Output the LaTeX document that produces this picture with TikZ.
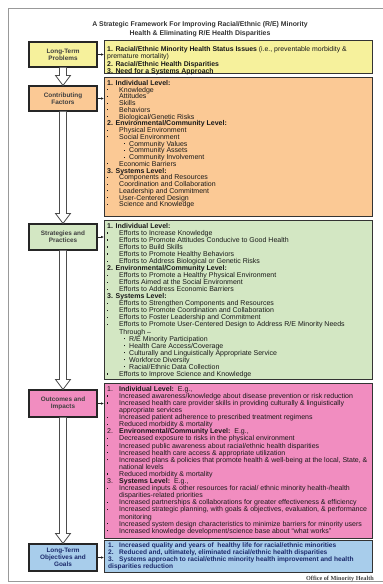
\documentclass[tikz,border=0pt]{standalone}
\usepackage{fontspec}
\setmainfont{Liberation Sans}
\newfontfamily\credfont{Liberation Serif}
\usetikzlibrary{arrows.meta,calc}
\definecolor{probfill}{HTML}{F6F19C}
\definecolor{factfill}{HTML}{FBC995}
\definecolor{stratfill}{HTML}{D3E7C3}
\definecolor{outfill}{HTML}{F18DC0}
\definecolor{goalfill}{HTML}{A8CDEB}
\definecolor{goaltext}{HTML}{1B2A6B}
\newcommand{\dotmark}{\raisebox{1.8pt}{\rule{1.2pt}{1.2pt}}}
\newcommand{\bl}{\makebox[12pt][l]{\dotmark}}
\newcommand{\sbl}{\hspace*{17pt}\makebox[5pt][l]{\dotmark}}
\newcommand{\cont}{\hspace*{12pt}}
\newcommand{\lvl}[1]{\makebox[12pt][l]{#1}}
\newcommand{\blockarrow}[2]{%
  \draw[barrow] let \p1=(#1.south), \p2=(#2.north) in
    (\x1-3.5pt,\y1) -- (\x1-3.5pt,\y2+10pt) -- (\x1-7.5pt,\y2+10pt) -- (\x1,\y2)
    -- (\x1+7.5pt,\y2+10pt) -- (\x1+3.5pt,\y2+10pt) -- (\x1+3.5pt,\y1);}
\begin{document}
\begin{tikzpicture}[x=1pt,y=-1pt,
	every node/.style={inner sep=0pt},
	stage/.style={draw=black!85,line width=1.1pt,minimum width=68pt,align=center,
		font=\fontsize{6.4}{7}\selectfont\bfseries,text=black!75},
	panel/.style={draw=black!80,line width=1.3pt,minimum width=268pt,anchor=north west},
	items/.style={anchor=north west,align=left,font=\fontsize{7}{7}\selectfont,text=black!90},
	conn/.style={-{Latex[length=3pt,width=2.6pt]},line width=0.8pt,black!85},
	barrow/.style={draw=black!70,fill=white,line width=0.8pt}]
\useasboundingbox (0,0) rectangle (383,584);
\draw[black!40,line width=0.8pt] (384,8) -- (8,8) -- (8,581) -- (384,581);
\node[align=center,font=\fontsize{6.9}{8.8}\selectfont\bfseries,text=black!80] (title) at (200,29.5)
	{A Strategic Framework For Improving Racial/Ethnic (R/E) Minority\\
	 Health \& Eliminating R/E Health Disparities};

\node[stage,fill=probfill,minimum height=25pt] (prob) at (63,54.5) {Long-Term\\Problems};
\node[stage,fill=factfill,minimum height=25pt] (fact) at (63,98.5) {Contributing\\Factors};
\node[stage,fill=stratfill,minimum height=26pt] (strat) at (63,237) {Strategies and\\Practices};
\node[stage,fill=outfill,minimum height=27pt] (out) at (63,403.5) {Outcomes and\\Impacts};
\node[stage,fill=goalfill,minimum height=27pt,text=goaltext] (goal) at (63,557.5) {Long-Term\\Objectives and\\Goals};

\node[panel,fill=probfill,minimum height=33pt] (probbox) at (104,40) {};
\node[panel,fill=factfill,minimum height=139pt] (factbox) at (104,77) {};
\node[panel,fill=stratfill,minimum height=159pt] (stratbox) at (104,220) {};
\node[panel,fill=outfill,minimum height=155pt] (outbox) at (104,383) {};
\node[panel,fill=goalfill,minimum height=32pt] (goalbox) at (104,540) {};

\blockarrow{prob}{fact}
\blockarrow{fact}{strat}
\blockarrow{strat}{out}
\blockarrow{out}{goal}

\draw[conn] (prob.east) -- (prob.east -| probbox.west);
\draw[conn] (fact.east) -- (fact.east -| factbox.west);
\draw[conn] (strat.east) -- (strat.east -| stratbox.west);
\draw[conn] (out.east) -- (out.east -| outbox.west);
\draw[conn] (goal.east) -- (goal.east -| goalbox.west);

\node[items,font=\fontsize{6.9}{6.4}\selectfont] (problist) at (107,46)
	{\textbf{1. Racial/Ethnic Minority Health Status Issues} (i.e., preventable morbidity \&\\
	premature mortality)\\
	\textbf{2. Racial/Ethnic Health Disparities}\\
	\textbf{3. Need for a Systems Approach}};
\node[items,font=\fontsize{7}{6.75}\selectfont] (factlist) at (107,80)
	{\textbf{1. Individual Level:}\\
	\bl Knowledge\\
	\bl Attitudes\\
	\bl Skills\\
	\bl Behaviors\\
	\bl Biological/Genetic Risks\\
	\textbf{2. Environmental/Community Level:}\\
	\bl Physical Environment\\
	\bl Social Environment\\
	\sbl Community Values\\
	\sbl Community Assets\\
	\sbl Community Involvement\\
	\bl Economic Barriers\\
	\textbf{3. Systems Level:}\\
	\bl Components and Resources\\
	\bl Coordination and Collaboration\\
	\bl Leadership and Commitment\\
	\bl User-Centered Design\\
	\bl Science and Knowledge};
\node[items,font=\fontsize{7}{7.05}\selectfont] (stratlist) at (107,223)
	{\textbf{1. Individual Level:}\\
	\bl Efforts to Increase Knowledge\\
	\bl Efforts to Promote Attitudes Conducive to Good Health\\
	\bl Efforts to Build Skills\\
	\bl Efforts to Promote Healthy Behaviors\\
	\bl Efforts to Address Biological or Genetic Risks\\
	\textbf{2. Environmental/Community Level:}\\
	\bl Efforts to Promote a Healthy Physical Environment\\
	\bl Efforts Aimed at the Social Environment\\
	\bl Efforts to Address Economic Barriers\\
	\textbf{3. Systems Level:}\\
	\bl Efforts to Strengthen Components and Resources\\
	\bl Efforts to Promote Coordination and Collaboration\\
	\bl Efforts to Foster Leadership and Commitment\\
	\bl Efforts to Promote User-Centered Design to Address R/E Minority Needs\\
	\cont Through --\\
	\sbl R/E Minority Participation\\
	\sbl Health Care Access/Coverage\\
	\sbl Culturally and Linguistically Appropriate Service\\
	\sbl Workforce Diversity\\
	\sbl Racial/Ethnic Data Collection\\
	\bl Efforts to Improve Science and Knowledge};
\node[items,font=\fontsize{7}{7.1}\selectfont] (outlist) at (107,386)
	{\lvl{1.}\textbf{Individual Level:}\ \ E.g.,\\
	\bl Increased awareness/knowledge about disease prevention or risk reduction\\
	\bl Increased health care provider skills in providing culturally \& linguistically\\
	\cont appropriate services\\
	\bl Increased patient adherence to prescribed treatment regimens\\
	\bl Reduced morbidity \& mortality\\
	\lvl{2.}\textbf{Environmental/Community Level:}\ \ E.g.,\\
	\bl Decreased exposure to risks in the physical environment\\
	\bl Increased public awareness about racial/ethnic health disparities\\
	\bl Increased health care access \& appropriate utilization\\
	\bl Increased plans \& policies that promote health \& well-being at the local, State, \&\\
	\cont national levels\\
	\bl Reduced morbidity \& mortality\\
	\lvl{3.}\textbf{Systems Level:}\ \ E.g.,\\
	\bl Increased inputs \& other resources for racial/ ethnic minority health-/health\\
	\cont disparities-related priorities\\
	\bl Increased partnerships \& collaborations for greater effectiveness \& efficiency\\
	\bl Increased strategic planning, with goals \& objectives, evaluation, \& performance\\
	\cont monitoring\\
	\bl Increased system design characteristics to minimize barriers for minority users\\
	\bl Increased knowledge development/science base about “what works”};
\node[items,font=\fontsize{6.6}{7}\selectfont\bfseries,text=goaltext] (goallist) at (108,543)
	{\makebox[11pt][l]{1.}Increased quality and years of \ healthy life for racial/ethnic minorities\\
	\makebox[11pt][l]{2.}Reduced and, ultimately, eliminated racial/ethnic health disparities\\
	\makebox[11pt][l]{3.}Systems approach to racial/ethnic minority health improvement and health\\
	disparities reduction};

\node[anchor=base east,font=\credfont\fontsize{6.2}{7}\selectfont\bfseries,text=black!75] (credit) at (374,580)
	{Office of Minority Health};
\end{tikzpicture}
\end{document}
